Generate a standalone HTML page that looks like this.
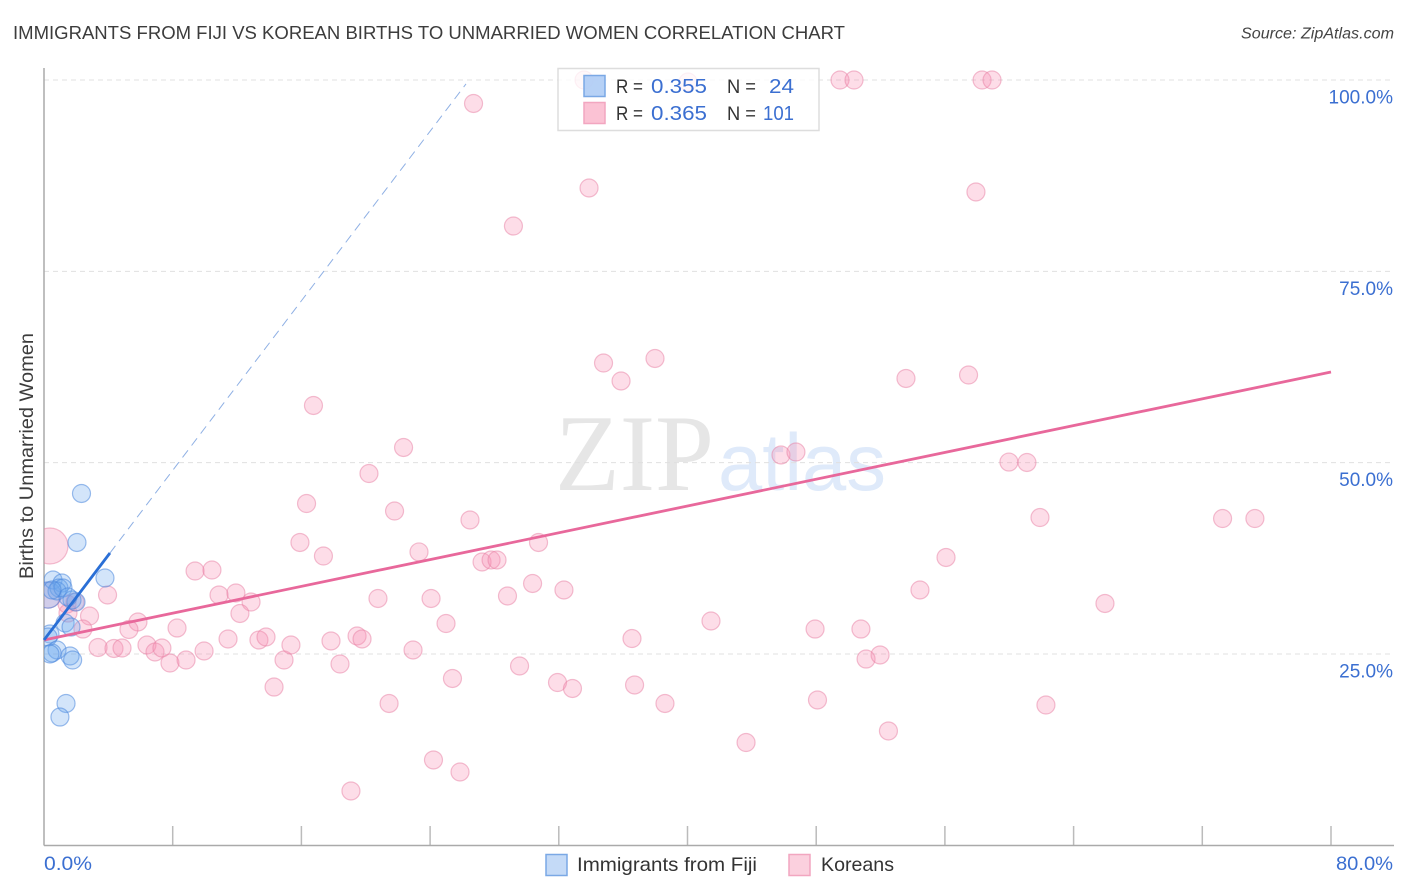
<!DOCTYPE html>
<html lang="en">
<head>
<meta charset="utf-8">
<title>Immigrants from Fiji vs Korean Births to Unmarried Women Correlation Chart</title>
<style>
html,body{margin:0;padding:0;background:#fff;width:1406px;height:892px;overflow:hidden}
svg{display:block;font-family:"Liberation Sans",sans-serif}
</style>
</head>
<body>
<svg id="chart" xmlns="http://www.w3.org/2000/svg" width="1406" height="892" viewBox="0 0 1406 892">
  <defs>
    <clipPath id="plot-clip"><rect x="44" y="60" width="1350" height="785"></rect></clipPath>
  </defs>
  <rect x="0" y="0" width="1406" height="892" fill="#fff"></rect>
  <text x="13" y="39" font-size="18.5" fill="#3c3c3c" textLength="832" lengthAdjust="spacingAndGlyphs">IMMIGRANTS FROM FIJI VS KOREAN BIRTHS TO UNMARRIED WOMEN CORRELATION CHART</text>
  <text x="1241" y="38.5" font-size="15.5" font-style="italic" fill="#444" textLength="153" lengthAdjust="spacingAndGlyphs">Source: ZipAtlas.com</text>

  <g>
    <text x="555" y="490" font-family="'Liberation Serif',serif" font-size="109" fill="#e6e6e6" textLength="159" lengthAdjust="spacingAndGlyphs">ZIP</text>
    <text x="718" y="490" font-size="81" fill="#dfeafa" textLength="168" lengthAdjust="spacingAndGlyphs">atlas</text>
  </g>

  <g id="grid"></g>
  <g id="x-ticks"></g>
  <g id="y-labels"></g>

  <line x1="44" y1="68" x2="44" y2="845.5" stroke="#aaa" stroke-width="1.5"></line>
  <line x1="44" y1="845.5" x2="1394" y2="845.5" stroke="#aaa" stroke-width="1.5"></line>

  <g id="korean-points" clip-path="url(#plot-clip)"></g>
  <g id="fiji-points" clip-path="url(#plot-clip)"></g>
  <g id="trends"></g>

  <text transform="translate(33,456) rotate(-90)" font-size="19" fill="#3c3c3c" text-anchor="middle" textLength="246" lengthAdjust="spacingAndGlyphs">Births to Unmarried Women</text>
  <text x="44" y="870" font-size="19" fill="#3b6fd1" textLength="48" lengthAdjust="spacingAndGlyphs">0.0%</text>
  <text x="1336" y="870" font-size="19" fill="#3b6fd1" textLength="57" lengthAdjust="spacingAndGlyphs">80.0%</text>

  <g>
    <rect x="558" y="68.5" width="261" height="62" fill="#fff" fill-opacity="0.78" stroke="#ddd" stroke-width="1.5"></rect>
    <rect x="584" y="75.5" width="21" height="21" fill="#a9c9f5" fill-opacity="0.85" stroke="#7aa8e5" stroke-width="1.5"></rect>
    <rect x="584" y="102.5" width="21" height="21" fill="#fbc2d4" stroke="#f2a6c0" stroke-width="1.5"></rect>
    <text x="616" y="93" font-size="19.5" fill="#333" textLength="27" lengthAdjust="spacingAndGlyphs">R =</text>
    <text x="651" y="93" font-size="20" fill="#3b6fd1" textLength="56" lengthAdjust="spacingAndGlyphs">0.355</text>
    <text x="727" y="93" font-size="19.5" fill="#333" textLength="29" lengthAdjust="spacingAndGlyphs">N =</text>
    <text x="769" y="93" font-size="20" fill="#3b6fd1" textLength="25" lengthAdjust="spacingAndGlyphs">24</text>
    <text x="616" y="120" font-size="19.5" fill="#333" textLength="27" lengthAdjust="spacingAndGlyphs">R =</text>
    <text x="651" y="120" font-size="20" fill="#3b6fd1" textLength="56" lengthAdjust="spacingAndGlyphs">0.365</text>
    <text x="727" y="120" font-size="19.5" fill="#333" textLength="29" lengthAdjust="spacingAndGlyphs">N =</text>
    <text x="763" y="120" font-size="20" fill="#3b6fd1" textLength="31" lengthAdjust="spacingAndGlyphs">101</text>
  </g>

  <g>
    <rect x="546" y="854.5" width="21" height="21" fill="#c4daf7" stroke="#7aa8e5" stroke-width="1.5"></rect>
    <text x="577" y="871" font-size="19.5" fill="#333" textLength="180" lengthAdjust="spacingAndGlyphs">Immigrants from Fiji</text>
    <rect x="789" y="854.5" width="21" height="21" fill="#fbd0de" stroke="#f2a6c0" stroke-width="1.5"></rect>
    <text x="821" y="871" font-size="19.5" fill="#333" textLength="73" lengthAdjust="spacingAndGlyphs">Koreans</text>
  </g>
</svg>

<script>
const yTickValues = [25, 50, 75, 100];
const yTickLabels = ["25.0%", "50.0%", "75.0%", "100.0%"];
const xTickValues = [8, 16, 24, 32, 40, 48, 56, 64, 72, 80];

const koreanX = [0.37,0.25,26.70,29.18,33.88,57.93,33.57,40.03,49.48,50.35,58.31,58.93,34.78,37.98,35.87,53.58,57.47,16.75,22.35,20.20,16.32,21.79,26.48,15.91,17.37,23.31,27.23,27.79,28.16,30.74,45.81,46.74,59.98,61.10,61.91,73.26,75.27,56.07,54.45,65.95,9.39,10.44,10.88,11.93,12.87,12.18,3.95,2.83,5.84,2.42,5.28,8.27,3.36,4.35,4.85,6.40,6.90,7.33,7.83,8.83,9.95,11.44,13.36,13.80,14.92,15.35,14.30,17.84,18.40,19.46,19.77,22.94,20.76,24.06,24.99,28.81,30.37,32.32,36.55,41.46,47.93,50.78,51.10,51.97,29.56,25.39,31.92,32.85,36.71,38.60,48.08,62.28,21.45,43.64,52.49,24.21,25.86,19.08,1.49,1.43,1.93];
const koreanY = [39.11,32.70,96.93,80.92,85.89,85.37,100,99.74,100,100,100,100,63.02,63.61,60.67,61.00,61.45,57.47,51.98,48.58,44.66,43.68,42.51,39.57,37.80,38.33,37.02,37.28,37.28,39.57,51.00,51.39,50.08,50.02,42.83,42.70,42.70,37.61,33.36,31.60,35.84,35.97,32.71,32.97,31.79,30.29,32.71,29.96,29.18,28.26,28.20,28.39,25.85,25.72,25.78,26.17,25.26,25.78,23.82,24.21,25.39,26.96,26.83,27.22,24.21,26.17,20.68,26.70,23.69,27.35,26.96,25.52,32.25,32.25,28.98,32.58,34.21,33.36,27.02,29.31,28.26,28.26,24.34,24.87,23.43,21.80,21.27,20.49,20.95,18.53,18.99,18.33,18.53,13.43,14.94,11.15,9.58,7.10,30.35,31.53,31.79];
const koreanWeight = [4, 2.1];

const fijiX = [0.25,2.33,2.05,3.79,0.56,1.12,0.93,0.81,1.18,1.99,1.74,1.49,1.31,1.68,0.37,0.25,0.81,0.50,0.37,1.62,1.78,1.37,0.99,0.50];
const fijiY = [32.70,45.97,39.57,34.93,34.67,34.27,33.62,33.23,33.62,31.79,32.05,32.45,29.05,28.52,27.61,27.22,25.52,25.13,25.00,24.74,24.21,18.53,16.76,33.36];
const fijiWeight = [2.1];

const koreanTrendX = [0, 80];
const koreanTrendY = [26.83, 61.84];
const fijiSolidX = [0, 4.10];
const fijiSolidY = [26.83, 38.19];
const fijiDashX = [4.10, 26.23];
const fijiDashY = [38.19, 99.48];

const NS = "http://www.w3.org/2000/svg";
function xScale(v) { return 44 + v * 16.0875; }
function yScale(v) { return 845.3 - v * 7.653; }
function make(tag, parentId, attrs) {
  const el = document.createElementNS(NS, tag);
  for (const k in attrs) el.setAttribute(k, attrs[k]);
  document.getElementById(parentId).appendChild(el);
  return el;
}

yTickValues.forEach(function (v, i) {
  const y = yScale(v);
  const line = make("line", "grid", {x1: 44, y1: y, x2: 1394, y2: y, stroke: "#e0e0e0", "stroke-width": 1, "stroke-dasharray": "5 4"});
  
  
  const label = make("text", "y-labels", {x: 1393, y: y + 23.5, "font-size": 19, fill: "#3b6fd1", "text-anchor": "end"});
  
  
  label.textContent = yTickLabels[i];
});

xTickValues.forEach(function (v) {
  const x = xScale(v);
  const tick = make("line", "x-ticks", {x1: x, y1: 826, x2: x, y2: 845, stroke: "#bbb", "stroke-width": 1.5});
  
  
});

koreanX.forEach(function (v, i) {
  const w = koreanWeight[i] || 1;
  const c = make("circle", "korean-points", {cx: xScale(v), cy: yScale(koreanY[i]), r: 9 * Math.sqrt(w), fill: "#f78fb3", "fill-opacity": 0.3, stroke: "#e77fa3", "stroke-opacity": 0.5, "stroke-width": 1.2});
  
  
});

fijiX.forEach(function (v, i) {
  const w = fijiWeight[i] || 1;
  const c = make("circle", "fiji-points", {cx: xScale(v), cy: yScale(fijiY[i]), r: 9 * Math.sqrt(w), fill: "#6ea8ee", "fill-opacity": 0.3, stroke: "#4a86dc", "stroke-opacity": 0.55, "stroke-width": 1.2});
  
  
});

const fijiDash = make("line", "trends", {x1: xScale(fijiDashX[0]), y1: yScale(fijiDashY[0]), x2: xScale(fijiDashX[1]), y2: yScale(fijiDashY[1]), stroke: "#8fb0e4", "stroke-width": 1, "stroke-dasharray": "9 6"});



const koreanTrend = make("line", "trends", {x1: xScale(koreanTrendX[0]), y1: yScale(koreanTrendY[0]), x2: xScale(koreanTrendX[1]), y2: yScale(koreanTrendY[1]), stroke: "#e8689b", "stroke-width": 2.8});



const fijiSolid = make("line", "trends", {x1: xScale(fijiSolidX[0]), y1: yScale(fijiSolidY[0]), x2: xScale(fijiSolidX[1]), y2: yScale(fijiSolidY[1]), stroke: "#2a6fd6", "stroke-width": 2.8});


</script>
</body>
</html>
